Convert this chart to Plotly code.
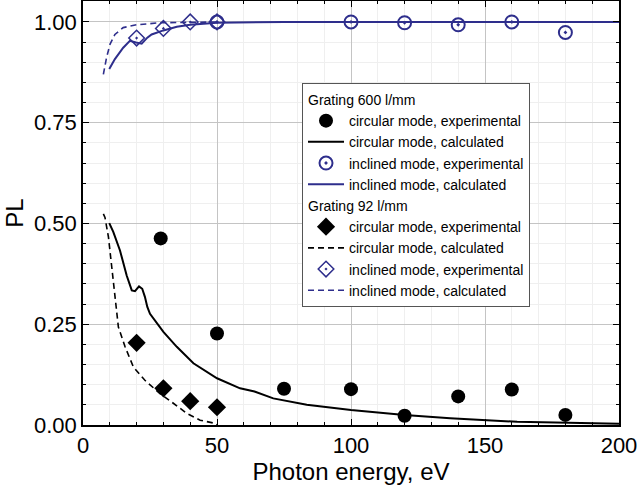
import plotly.graph_objects as go

# ---- data ----
g600_circ_exp_x = [29, 50, 75, 100, 120, 140, 160, 180]
g600_circ_exp_y = [0.463, 0.227, 0.090, 0.089, 0.023, 0.071, 0.088, 0.025]

g600_circ_calc_x = [9.8, 11.3, 13.8, 16.3, 18.2, 19.4, 20.9, 22.1, 23.1, 24.0, 25.0, 27.5, 30.0,
                    35.0, 41.2, 50.0, 58.6, 64.0, 71.0, 83.5, 100.0, 120.0, 137.0, 162.0, 187.0, 200.0]
g600_circ_calc_y = [0.501, 0.479, 0.433, 0.371, 0.334, 0.332, 0.344, 0.338, 0.318, 0.293, 0.276, 0.252, 0.231,
                    0.194, 0.153, 0.116, 0.091, 0.083, 0.066, 0.050, 0.037, 0.025, 0.017, 0.008, 0.004, 0.003]

g600_incl_exp_x = [50, 100, 120, 140, 160, 180]
g600_incl_exp_y = [1.000, 1.000, 0.998, 0.993, 1.000, 0.974]

g600_incl_calc_x = [9.8, 11.9, 15.0, 17.5, 19.8, 21.9, 24.0, 25.6, 30.0, 35.0, 40.0, 50.0, 75.0, 100.0, 150.0, 200.0]
g600_incl_calc_y = [0.883, 0.908, 0.936, 0.953, 0.949, 0.946, 0.961, 0.969, 0.979, 0.988, 0.993, 0.998, 1.0, 1.0, 1.0, 1.0]

g92_circ_exp_x = [20, 30, 40, 50]
g92_circ_exp_y = [0.204, 0.091, 0.059, 0.044]

g92_circ_calc_x = [7.6, 8.2, 9.5, 11.1, 13.2, 15.7, 18.8, 23.1, 28.7, 33.7, 38.7, 43.7, 49.3, 50.0]
g92_circ_calc_y = [0.524, 0.515, 0.466, 0.367, 0.243, 0.194, 0.144, 0.111, 0.078, 0.054, 0.029, 0.012, 0.004, 0.0]

g92_incl_exp_x = [20, 30, 40, 50]
g92_incl_exp_y = [0.960, 0.984, 1.000, 1.000]

g92_incl_calc_x = [7.6, 8.8, 10.1, 11.9, 15.0, 20.0, 28.7, 40.0, 50.0]
g92_incl_calc_y = [0.870, 0.912, 0.945, 0.969, 0.986, 0.993, 0.998, 1.000, 1.000]

BLUE = "#2e2e8c"
FONT = "Liberation Sans, Arial, sans-serif"

fig = go.Figure()

fig.add_trace(go.Scatter(x=g600_circ_exp_x, y=g600_circ_exp_y, mode="markers",
                         name="circular mode, experimental", legendgroup="g600",
                         legendgrouptitle=dict(text="Grating 600 l/mm", font=dict(size=14, color="black")),
                         marker=dict(symbol="circle", size=14, color="black")))
fig.add_trace(go.Scatter(x=g600_circ_calc_x, y=g600_circ_calc_y, mode="lines",
                         name="circular mode, calculated", legendgroup="g600",
                         line=dict(color="black", width=2)))
fig.add_trace(go.Scatter(x=g600_incl_exp_x, y=g600_incl_exp_y, mode="markers",
                         name="inclined mode, experimental", legendgroup="g600",
                         marker=dict(symbol="circle-open-dot", size=13, color=BLUE,
                                     line=dict(width=2, color=BLUE))))
fig.add_trace(go.Scatter(x=g600_incl_calc_x, y=g600_incl_calc_y, mode="lines",
                         name="inclined mode, calculated", legendgroup="g600",
                         line=dict(color=BLUE, width=2)))

fig.add_trace(go.Scatter(x=g92_circ_exp_x, y=g92_circ_exp_y, mode="markers",
                         name="circular mode, experimental", legendgroup="g92",
                         legendgrouptitle=dict(text="Grating 92 l/mm", font=dict(size=14, color="black")),
                         marker=dict(symbol="diamond", size=14, color="black")))
fig.add_trace(go.Scatter(x=g92_circ_calc_x, y=g92_circ_calc_y, mode="lines",
                         name="circular mode, calculated", legendgroup="g92",
                         line=dict(color="black", width=1.6, dash="6px,4px")))
fig.add_trace(go.Scatter(x=g92_incl_exp_x, y=g92_incl_exp_y, mode="markers",
                         name="inclined mode, experimental", legendgroup="g92",
                         marker=dict(symbol="diamond-open-dot", size=12, color=BLUE,
                                     line=dict(width=1.5, color=BLUE))))
fig.add_trace(go.Scatter(x=g92_incl_calc_x, y=g92_incl_calc_y, mode="lines",
                         name="inclined mode, calculated", legendgroup="g92",
                         line=dict(color=BLUE, width=1.6, dash="6px,4px")))

axis_common = dict(
    showline=True, linecolor="black", linewidth=1.5, mirror="allticks",
    ticks="inside", ticklen=6, tickwidth=1.2, tickcolor="black",
    showgrid=True, gridcolor="#c4c4c4", gridwidth=1,
    zeroline=False, automargin=False,
    tickfont=dict(size=22, color="black", family=FONT),
)

fig.update_xaxes(range=[0, 200], dtick=50, tick0=0,
                 title=dict(text="Photon energy, eV", font=dict(size=24, color="black", family=FONT), standoff=0),
                 minor=dict(dtick=10, ticks="inside", ticklen=3, tickcolor="black", showgrid=True, gridcolor="#efefef"),
                 **axis_common)
fig.update_yaxes(range=[0, 1.052], dtick=0.25, tick0=0, tickformat=".2f",
                 title=dict(text="PL", font=dict(size=24, color="black", family=FONT), standoff=4),
                 minor=dict(dtick=0.05, ticks="inside", ticklen=3, tickcolor="black", showgrid=True, gridcolor="#efefef"),
                 **axis_common)

fig.update_layout(
    width=640, height=488,
    margin=dict(l=83, r=21, t=1, b=63),
    paper_bgcolor="white", plot_bgcolor="white",
    font=dict(family=FONT, color="black"),
    legend=dict(x=0.4086, y=0.807, xanchor="left", yanchor="top",
                bgcolor="white", bordercolor="#555555", borderwidth=1,
                font=dict(size=14, color="black", family=FONT),
                traceorder="grouped", tracegroupgap=0, itemwidth=36),
)

fig.write_html("out.html", config={"displayModeBar": False},
               post_script="document.body.style.margin='0';")
